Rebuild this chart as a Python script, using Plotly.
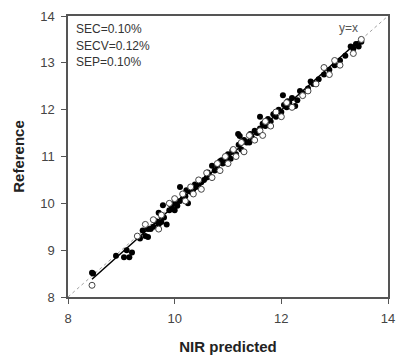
import numpy as np
import plotly.graph_objects as go

# Calibration set (filled dots): NIR predicted vs reference
cal_pred = [8.45, 8.47, 8.90, 9.05, 9.10, 9.15, 9.20, 9.35, 9.45, 9.50, 9.50, 9.55, 9.60,
            9.70, 9.75, 9.78, 9.80, 9.85, 9.70, 9.90, 9.95, 10.00, 10.00, 10.05, 10.10,
            10.10, 10.15, 10.20, 10.25, 10.30, 10.35, 10.40, 10.45, 10.50, 10.55, 10.60,
            10.65, 10.70, 10.75, 10.80, 10.85, 10.90, 10.95, 11.00, 11.05, 11.10, 11.15,
            11.19, 11.20, 11.22, 11.25, 11.30, 11.35, 11.40, 11.45, 11.50, 11.55, 11.60,
            11.60, 11.65, 11.70, 11.75, 11.80, 11.85, 11.90, 11.95, 12.00, 12.03, 12.05,
            12.10, 12.15, 12.20, 12.26, 12.30, 12.40, 12.50, 12.60, 12.70, 12.80, 12.90,
            13.00, 13.10, 13.20, 13.30, 13.35, 13.40, 13.45, 13.50, 9.40, 9.65, 9.92,
            10.22, 10.38, 10.62, 10.88, 11.08, 11.42, 11.68, 11.88, 12.12, 12.35, 12.55]
cal_ref = [8.52, 8.50, 8.88, 8.85, 9.00, 8.85, 8.95, 9.25, 9.30, 9.45, 9.28, 9.45, 9.50,
           9.55, 9.60, 9.96, 9.70, 9.55, 9.80, 9.85, 9.90, 9.85, 10.00, 9.95, 10.05,
           10.35, 10.10, 10.15, 10.00, 10.25, 10.30, 10.35, 10.40, 10.45, 10.50, 10.55,
           10.60, 10.80, 10.70, 10.75, 10.90, 10.85, 10.90, 11.05, 10.95, 11.10, 11.05,
           11.48, 11.25, 11.44, 11.15, 11.35, 11.30, 11.30, 11.40, 11.55, 11.50, 11.60,
           11.85, 11.70, 11.65, 11.80, 11.75, 11.90, 11.85, 12.00, 11.95, 12.31, 12.10,
           12.05, 12.15, 12.25, 12.08, 12.20, 12.35, 12.45, 12.55, 12.65, 12.75, 12.85,
           12.95, 13.05, 13.15, 13.35, 13.30, 13.40, 13.35, 13.45, 9.42, 9.62, 9.98,
           10.28, 10.40, 10.66, 10.92, 11.12, 11.48, 11.72, 11.92, 12.18, 12.40, 12.60]

# Validation set (open circles)
val_pred = [8.45, 9.30, 9.45, 9.60, 9.70, 9.75, 9.90, 10.00, 10.15, 10.20, 10.30, 10.35,
            10.45, 10.50, 10.60, 10.70, 10.80, 10.85, 10.95, 11.00, 11.10, 11.15, 11.25,
            11.30, 11.40, 11.50, 11.60, 11.65, 11.70, 11.80, 11.90, 12.00, 12.10, 12.20,
            12.40, 12.50, 12.65, 12.80, 12.90, 13.00, 13.10, 13.35, 13.50]
val_ref = [8.25, 9.30, 9.55, 9.65, 9.45, 9.75, 10.00, 10.10, 10.20, 10.05, 10.35, 10.20,
           10.50, 10.30, 10.65, 10.55, 10.85, 10.70, 11.00, 10.85, 11.15, 11.00, 11.30,
           11.10, 11.45, 11.35, 11.55, 11.45, 11.75, 11.65, 11.95, 11.85, 12.15, 12.05,
           12.30, 12.40, 12.55, 12.90, 12.75, 13.05, 12.95, 13.20, 13.50]

stats_text = ["SEC=0.10%", "SECV=0.12%", "SEP=0.10%"]
axis_range = [8, 14]
tick_vals = [8, 10, 12, 14]
ytick_vals = [8, 9, 10, 11, 12, 13, 14]

FONT = "Liberation Sans, Arial, sans-serif"

fig = go.Figure()

# y = x line
fig.add_trace(go.Scatter(x=axis_range, y=axis_range, mode="lines",
                         line=dict(color="#a0a0a0", width=1, dash="dot"),
                         hoverinfo="skip", showlegend=False))

# regression line through calibration data
cp = np.array(cal_pred)
cr = np.array(cal_ref)
slope, icpt = np.polyfit(cp, cr, 1)
xl = np.array([cp.min(), cp.max()])
fig.add_trace(go.Scatter(x=xl, y=slope * xl + icpt, mode="lines",
                         line=dict(color="black", width=1.5), showlegend=False))

fig.add_trace(go.Scatter(x=cal_pred, y=cal_ref, mode="markers",
                         marker=dict(color="black", size=6, line=dict(width=0)),
                         showlegend=False))
fig.add_trace(go.Scatter(x=val_pred, y=val_ref, mode="markers",
                         marker=dict(color="white", size=6,
                                     line=dict(color="#444444", width=1)),
                         showlegend=False))

font_txt = dict(family=FONT, size=12, color="#333333")
for i, t in enumerate(stats_text):
    fig.add_annotation(x=0.02, y=0.985 - i * 0.058, xref="paper", yref="paper",
                       text=t, showarrow=False, xanchor="left", yanchor="top",
                       font=font_txt)
fig.add_annotation(x=13.25, y=13.75, text="y=x", showarrow=False,
                   font=dict(family=FONT, size=12, color="#555555"))

axis_common = dict(range=axis_range, showgrid=False, zeroline=False, showline=True,
                   linecolor="#555555", linewidth=1.5, mirror=True, ticks="outside",
                   ticklen=5, tickcolor="#555555", tickwidth=1, automargin=False,
                   ticklabeloverflow="allow",
                   tickfont=dict(family=FONT, size=13, color="#444444"))

fig.update_layout(
    width=398, height=363,
    margin=dict(l=68, r=10, t=16, b=66),
    plot_bgcolor="white", paper_bgcolor="white",
    xaxis=dict(**axis_common, tickvals=tick_vals, ticklabelstandoff=4,
               title=dict(text="<b>NIR predicted</b>", standoff=16,
                          font=dict(family=FONT, size=15, color="#222222"))),
    yaxis=dict(**axis_common, tickvals=ytick_vals, ticklabelstandoff=4,
               title=dict(text="<b>Reference</b>", standoff=12,
                          font=dict(family=FONT, size=15, color="#222222"))),
)

fig.write_html("out.html", config={"displayModeBar": False},
               post_script="document.body.style.margin='0';document.body.style.overflow='hidden';")
